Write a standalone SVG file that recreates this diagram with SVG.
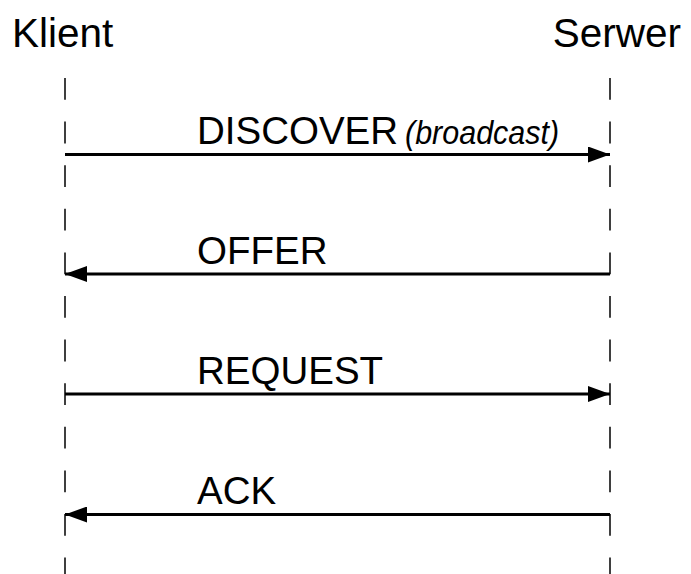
<svg xmlns="http://www.w3.org/2000/svg" width="691" height="574" viewBox="0 0 691 574">
<style>
text{font-family:"Liberation Sans",Arial,sans-serif;fill:#000}
.actor{font-size:40.5px}
.lbl{font-size:38.5px}
.it{font-size:33.5px;font-style:italic}
.life{stroke:#000;stroke-width:1.5;stroke-dasharray:21.8 21.8;fill:none}
.msg{stroke:#000;stroke-width:3;fill:none;marker-end:url(#ah)}
</style>
<defs>
<marker id="ah" markerUnits="userSpaceOnUse" viewBox="0 0 22 16" refX="22" refY="8" markerWidth="22" markerHeight="16" orient="auto">
<path d="M0,0 L22,8 L0,16 Z" fill="#000"/>
</marker>
</defs>
<g id="klient">
<text class="actor" x="12" y="47">Klient</text>
<line class="life" x1="65" y1="78" x2="65" y2="574"/>
</g>
<g id="serwer">
<text class="actor" x="681" y="47" text-anchor="end">Serwer</text>
<line class="life" x1="610" y1="78" x2="610" y2="574"/>
</g>
<g id="connectors">
<g id="discover">
<line class="msg" x1="65" y1="154.5" x2="610" y2="154.5"/>
<text class="lbl" x="197" y="144">DISCOVER</text>
<text class="it" transform="translate(405,143.5) scale(0.91,1)">(broadcast)</text>
</g>
<g id="offer">
<line class="msg" x1="610" y1="274" x2="65" y2="274"/>
<text class="lbl" x="197" y="264">OFFER</text>
</g>
<g id="request">
<line class="msg" x1="65" y1="394" x2="610" y2="394"/>
<text class="lbl" x="197" y="384">REQUEST</text>
</g>
<g id="ack">
<line class="msg" x1="610" y1="514.5" x2="65" y2="514.5"/>
<text class="lbl" x="197" y="504">ACK</text>
</g>
</g>
</svg>
